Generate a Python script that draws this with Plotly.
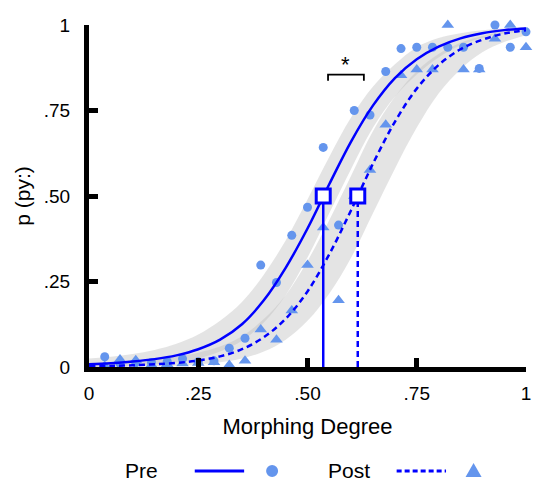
import plotly.graph_objects as go

# ---------------- data ----------------
deg = [0.036, 0.071, 0.107, 0.143, 0.179, 0.214, 0.25, 0.286, 0.321, 0.357,
       0.393, 0.429, 0.464, 0.5, 0.536, 0.571, 0.607, 0.643, 0.679, 0.714,
       0.75, 0.786, 0.821, 0.857, 0.893, 0.929, 0.964, 1.0]
pre_pts = [0.03, 0.01, 0.012, 0.013, 0.016, 0.024, 0.015, 0.018, 0.055, 0.084,
           0.298, 0.247, 0.385, 0.467, 0.642, 0.415, 0.75, 0.737, 0.864, 0.931,
           0.935, 0.935, 0.935, 0.935, 0.873, 1.0, 0.935, 0.98]
post_pts = [0.003, 0.022, 0.02, 0.006, 0.008, 0.01, 0.012, 0.014, 0.006, 0.018,
            0.11, 0.08, 0.165, 0.298, 0.408, 0.195, 0.5, 0.576, 0.708, 0.853,
            0.87, 0.87, 1.0, 0.87, 0.87, 0.96, 1.0, 0.935]

fit_x = [0, 0.05, 0.1, 0.15, 0.2, 0.25, 0.3, 0.35, 0.4, 0.45, 0.5,
         0.55, 0.6, 0.65, 0.7, 0.75, 0.8, 0.85, 0.9, 0.95, 1.0]
pre_fit = [0.008, 0.011, 0.016, 0.023, 0.034, 0.052, 0.080, 0.125, 0.195, 0.290, 0.405,
           0.535, 0.660, 0.765, 0.845, 0.900, 0.937, 0.961, 0.976, 0.985, 0.990]
pre_hi = [0.025, 0.03, 0.038, 0.05, 0.068, 0.095, 0.135, 0.19, 0.27, 0.37, 0.49,
          0.615, 0.73, 0.82, 0.885, 0.935, 0.962, 0.976, 0.985, 0.99, 0.994]
pre_lo = [0.0, 0.002, 0.004, 0.008, 0.014, 0.025, 0.045, 0.077, 0.13, 0.21, 0.32,
          0.45, 0.58, 0.70, 0.79, 0.855, 0.905, 0.94, 0.962, 0.975, 0.982]
post_fit = [0.002, 0.003, 0.005, 0.008, 0.012, 0.019, 0.031, 0.052, 0.087, 0.141, 0.221,
            0.330, 0.459, 0.595, 0.717, 0.814, 0.883, 0.929, 0.957, 0.975, 0.985]
post_hi = [0.012, 0.014, 0.018, 0.023, 0.03, 0.042, 0.06, 0.09, 0.14, 0.21, 0.31,
           0.43, 0.56, 0.69, 0.79, 0.865, 0.915, 0.948, 0.968, 0.98, 0.988]
post_lo = [0.0, 0.0, 0.001, 0.002, 0.004, 0.008, 0.014, 0.025, 0.045, 0.08, 0.135,
           0.215, 0.32, 0.45, 0.58, 0.70, 0.80, 0.87, 0.92, 0.95, 0.97]

thresholds = [0.536, 0.615]      # pre, post (p = .50)
thr_level = 0.5
sig_span = [0.547, 0.629]
sig_level = 0.855

x_ticks = [0, 0.25, 0.5, 0.75, 1]
x_ticklabels = ["0", ".25", ".50", ".75", "1"]
y_ticks = [0, 0.25, 0.5, 0.75, 1]
y_ticklabels = ["0", ".25", ".50", ".75", "1"]

# ---------------- styles ----------------
BLUE = "#0000FF"
PT = "#6495ED"
BAND = "rgba(190,190,190,0.42)"
FONT = "Liberation Sans, Arial, sans-serif"
DASH = "6px,4px"

fig = go.Figure()

# confidence bands
for lo, hi in [(pre_lo, pre_hi), (post_lo, post_hi)]:
    fig.add_trace(go.Scatter(x=fit_x, y=lo, mode="lines", line=dict(width=0, shape="spline"),
                             hoverinfo="skip", showlegend=False))
    fig.add_trace(go.Scatter(x=fit_x, y=hi, mode="lines", line=dict(width=0, shape="spline"),
                             fill="tonexty", fillcolor=BAND, hoverinfo="skip", showlegend=False))

# data points
fig.add_trace(go.Scatter(x=deg, y=pre_pts, mode="markers", cliponaxis=False,
                         marker=dict(symbol="circle", size=9, color=PT), showlegend=False))
fig.add_trace(go.Scatter(x=deg, y=post_pts, mode="markers", cliponaxis=False,
                         marker=dict(symbol="triangle-up", size=11, color=PT), showlegend=False))

# fitted curves
fig.add_trace(go.Scatter(x=fit_x, y=pre_fit, mode="lines", cliponaxis=False,
                         line=dict(color=BLUE, width=2.5, shape="spline"), showlegend=False))
fig.add_trace(go.Scatter(x=fit_x, y=post_fit, mode="lines", cliponaxis=False,
                         line=dict(color=BLUE, width=2.5, dash=DASH, shape="spline"), showlegend=False))

# threshold drop lines
fig.add_trace(go.Scatter(x=[thresholds[0], thresholds[0]], y=[0, thr_level], mode="lines",
                         line=dict(color=BLUE, width=2.5), showlegend=False))
fig.add_trace(go.Scatter(x=[thresholds[1], thresholds[1]], y=[0, thr_level], mode="lines",
                         line=dict(color=BLUE, width=2.5, dash=DASH), showlegend=False))
# threshold squares
fig.add_trace(go.Scatter(x=thresholds, y=[thr_level, thr_level], mode="markers",
                         marker=dict(symbol="square", size=14, color="white",
                                     line=dict(color=BLUE, width=3)), showlegend=False))

# significance bracket
fig.add_trace(go.Scatter(x=[sig_span[0], sig_span[0], sig_span[1], sig_span[1]],
                         y=[sig_level - 0.018, sig_level, sig_level, sig_level - 0.018],
                         mode="lines", line=dict(color="black", width=1.8), showlegend=False))
fig.add_annotation(x=(sig_span[0] + sig_span[1]) / 2, y=sig_level, yshift=10, text="*",
                   showarrow=False, font=dict(family=FONT, size=22, color="black"))

# custom legend (paper coordinates)
ly = -0.304
fig.add_annotation(xref="paper", yref="paper", x=0.12, y=ly, xanchor="center", yanchor="middle",
                   text="Pre", showarrow=False, font=dict(family=FONT, size=21, color="black"))
fig.add_annotation(xref="paper", yref="paper", x=0.595, y=ly, xanchor="center", yanchor="middle",
                   text="Post", showarrow=False, font=dict(family=FONT, size=21, color="black"))
fig.add_shape(type="line", xref="paper", yref="paper", x0=0.242, x1=0.355, y0=ly, y1=ly,
              line=dict(color=BLUE, width=3))
fig.add_shape(type="line", xref="paper", yref="paper", x0=0.704, x1=0.817, y0=ly, y1=ly,
              line=dict(color=BLUE, width=3, dash="5px,3px"))
fig.add_shape(type="circle", xref="paper", yref="paper", xsizemode="pixel", ysizemode="pixel",
              xanchor=0.419, yanchor=ly, x0=-6, x1=6, y0=-6, y1=6,
              fillcolor=PT, line=dict(width=0))
fig.add_shape(type="path", xref="paper", yref="paper", xsizemode="pixel", ysizemode="pixel",
              xanchor=0.88, yanchor=ly, path="M -8 -6 L 8 -6 L 0 8 Z",
              fillcolor=PT, line=dict(width=0))

axis_common = dict(showgrid=False, zeroline=False, showline=True, linecolor="black",
                   linewidth=5, ticks="inside", ticklen=9, tickwidth=5, tickcolor="black",
                   tickfont=dict(family=FONT, size=19, color="black"), range=[0, 1])

fig.update_xaxes(**axis_common, tickvals=x_ticks, ticktext=x_ticklabels,
                 ticklabelstandoff=5,
                 title=dict(text="Morphing Degree", font=dict(family=FONT, size=22, color="black"),
                            standoff=17))
fig.update_yaxes(**axis_common, tickvals=y_ticks, ticktext=y_ticklabels,
                 ticklabelstandoff=10,
                 title=dict(text="p (py:)", font=dict(family=FONT, size=21, color="black"),
                            standoff=9))

fig.update_layout(width=539, height=483, margin=dict(l=89, r=8, t=25, b=116),
                  plot_bgcolor="white", paper_bgcolor="white", showlegend=False,
                  font=dict(family=FONT))

fig.write_html("out.html")
